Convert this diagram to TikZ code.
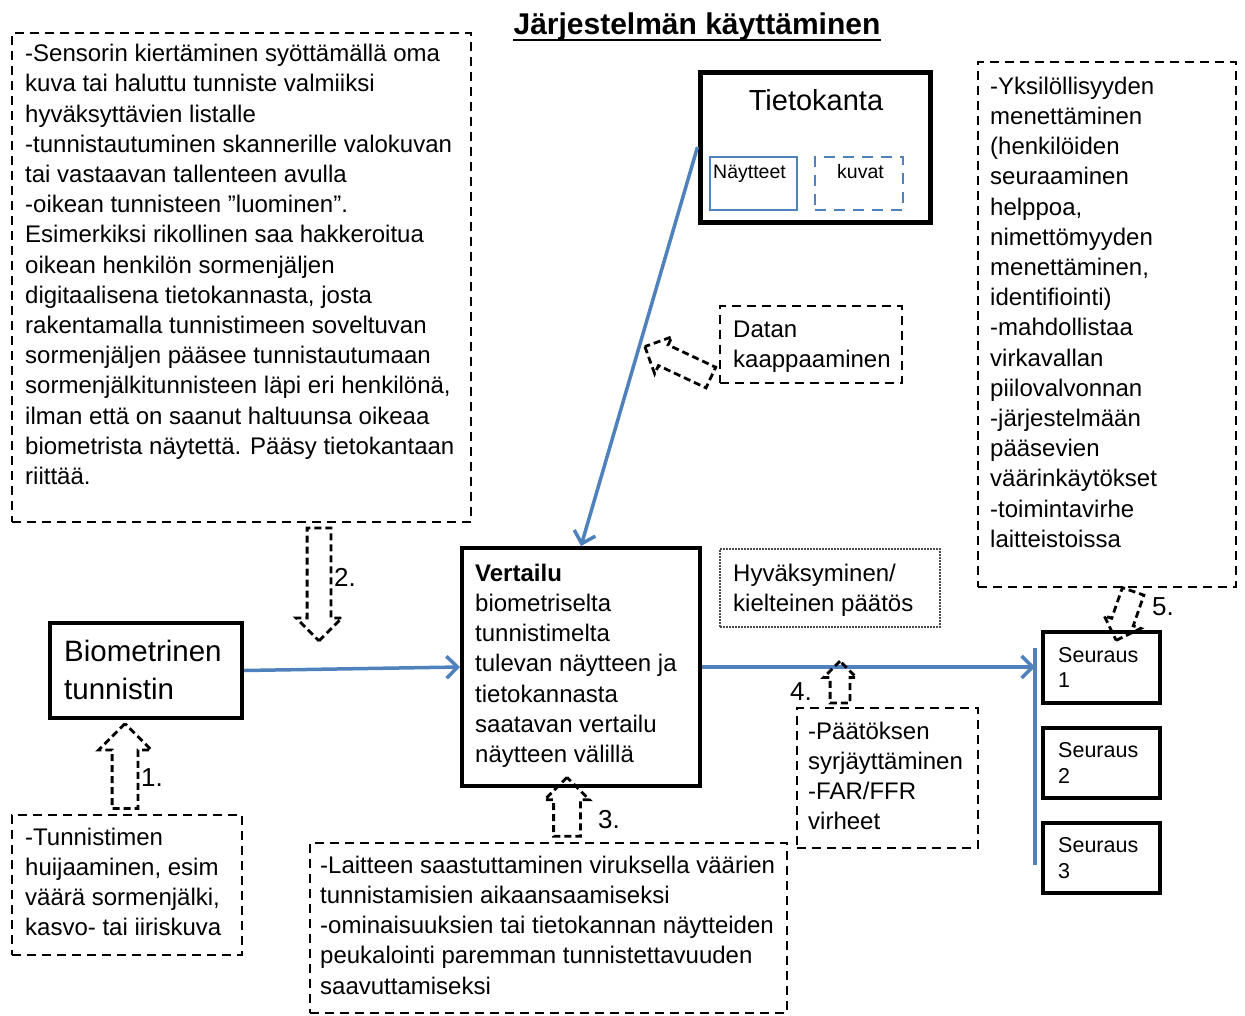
\documentclass[tikz,border=0pt]{standalone}
\usepackage{fontspec}
\setmainfont{Liberation Sans}
\usetikzlibrary{calc,arrows.meta,shapes.arrows,fit}
\definecolor{ablue}{RGB}{79,129,189}
\tikzset{
  boxthick/.style={draw, line width=4pt, inner sep=0pt},
  dbox/.style={draw, line width=2.2pt, dash pattern=on 9pt off 6pt, inner sep=0pt},
  dotbox/.style={draw=black!70, line width=1.1pt, dash pattern=on 1.6pt off 1.4pt, inner sep=0pt},
  bluebox/.style={draw=ablue, line width=2.5pt, inner sep=0pt},
  bluedbox/.style={bluebox, dash pattern=on 11pt off 8pt},
  txt/.style={anchor=north west, inner sep=0pt, align=left, font=\fontsize{24}{30.2}\selectfont},
  blueline/.style={draw=ablue, line width=3.5pt},
  bluearrow/.style={blueline, -{Straight Barb[length=11pt,width=22pt]}},
  harrow/.style={single arrow, draw, line width=2.8pt, dash pattern=on 7pt off 4pt, inner xsep=0pt, outer sep=0pt, single arrow tip angle=90},
  numlbl/.style={font=\fontsize{26}{30}\selectfont, inner sep=0pt}
}
% #1 name, #2 tail, #3 tip, #4 half shaft width, #5 head extend
\newcommand\hollowarrow[5]{%
  \path let \p1=(#2), \p2=(#3),
    \n1={atan2(\y2-\y1,\x2-\x1)},
    \n2={veclen(\x2-\x1,\y2-\y1)} in
    node[harrow, rotate=\n1, minimum height=\n2, inner ysep=#4pt, single arrow head extend=#5pt] (#1) at ($(#2)!0.5!(#3)$) {};}
\begin{document}
\begin{tikzpicture}[x=1pt,y=-1pt]
\useasboundingbox (0,0) rectangle (1245,1015);
\fill[white] (0,0) rectangle (1245,1015);

% title
\node[font=\fontsize{30}{34}\selectfont\bfseries, anchor=base, inner sep=0pt] (title) at (697,34) {Järjestelmän käyttäminen};
\draw[line width=2.6pt] ($(title.base west)+(0,6)$) -- ($(title.base east)+(0,6)$);

% box A
\node[dbox, fit={(12,33) (471,522)}] (boxA) {};
\node[txt] (txtA) at (25,40.4) {\strut -Sensorin kiertäminen syöttämällä oma\\
kuva tai haluttu tunniste valmiiksi\\
hyväksyttävien listalle\\
-tunnistautuminen skannerille valokuvan\\
tai vastaavan tallenteen avulla\\
-oikean tunnisteen ”luominen”.\\
Esimerkiksi rikollinen saa hakkeroitua\\
oikean henkilön sormenjäljen\\
digitaalisena tietokannasta, josta\\
rakentamalla tunnistimeen soveltuvan\\
sormenjäljen pääsee tunnistautumaan\\
sormenjälkitunnisteen läpi eri henkilönä,\\
ilman että on saanut haltuunsa oikeaa\\
biometrista näytettä. Pääsy tietokantaan\\
riittää.};

% Tietokanta
\node[boxthick, line width=5pt, fit={(700,72) (930,222)}] (tk) {};
\node[font=\fontsize{29}{34}\selectfont, anchor=base, inner sep=0pt] (tktitle) at (816,110) {Tietokanta};
\node[bluebox, fit={(710,157) (797,210)}] (nay) {};
\node[bluedbox, fit={(815,157) (903,210)}] (kuv) {};
\node[font=\fontsize{19.5}{22}\selectfont, anchor=base west, inner sep=0pt] (naytxt) at (713,178) {Näytteet};
\node[font=\fontsize{19.5}{22}\selectfont, anchor=base west, inner sep=0pt] (kuvtxt) at (837,178) {kuvat};

% Datan kaappaaminen
\node[dbox, fit={(720,306) (902,383)}] (datan) {};
\node[txt] (datantxt) at (733,316) {\strut Datan\\kaappaaminen};

% box 5
\node[dbox, fit={(978,62) (1236,587)}] (box5) {};
\node[txt] (txt5) at (990,73) {\strut -Yksilöllisyyden\\
menettäminen\\
(henkilöiden\\
seuraaminen\\
helppoa,\\
nimettömyyden\\
menettäminen,\\
identifiointi)\\
-mahdollistaa\\
virkavallan\\
piilovalvonnan\\
-järjestelmään\\
pääsevien\\
väärinkäytökset\\
-toimintavirhe\\
laitteistoissa};

% Biometrinen tunnistin
\node[boxthick, fit={(50,623) (242,718)}] (bio) {};
\node[txt, font=\fontsize{29.5}{38}\selectfont] (biotxt) at (64,634.4) {\strut Biometrinen\\tunnistin};

% Vertailu
\node[boxthick, fit={(462,548) (700,786)}] (vt) {};
\node[txt] (vttxt) at (475,560) {\strut \textbf{Vertailu}\\
biometriselta\\
tunnistimelta\\
tulevan näytteen ja\\
tietokannasta\\
saatavan vertailu\\
näytteen välillä};

% Hyväksyminen
\node[dotbox, fit={(720,549) (940,627)}] (hyv) {};
\node[txt] (hyvtxt) at (733,560) {\strut Hyväksyminen/\\kielteinen päätös};

% Seuraus boxes
\node[boxthick, fit={(1043,632) (1160,703)}] (s1) {};
\node[boxthick, fit={(1043,728) (1160,798)}] (s2) {};
\node[boxthick, fit={(1043,823) (1160,893)}] (s3) {};
\node[txt, font=\fontsize{21.5}{25.5}\selectfont] (s1txt) at (1058,644.2) {\strut Seuraus\\1};
\node[txt, font=\fontsize{21.5}{25.5}\selectfont] (s2txt) at (1058,739.7) {\strut Seuraus\\2};
\node[txt, font=\fontsize{21.5}{25.5}\selectfont] (s3txt) at (1058,834.7) {\strut Seuraus\\3};

% box 1
\node[dbox, fit={(12,815) (242,955)}] (box1) {};
\node[txt] (txt1) at (25,824) {\strut -Tunnistimen\\
huijaaminen, esim\\
väärä sormenjälki,\\
kasvo- tai iiriskuva};

% box 3
\node[dbox, fit={(310,843) (787,1013)}] (box3) {};
\node[txt] (txt3) at (320,852) {\strut -Laitteen saastuttaminen viruksella väärien\\
tunnistamisien aikaansaamiseksi\\
-ominaisuuksien tai tietokannan näytteiden\\
peukalointi paremman tunnistettavuuden\\
saavuttamiseksi};

% box 4
\node[dbox, fit={(797,708) (978,848)}] (box4) {};
\node[txt] (txt4) at (808,718) {\strut -Päätöksen\\
syrjäyttäminen\\
-FAR/FFR\\
virheet};

% blue connectors
\coordinate (bartop) at (1035,648);
\coordinate (barbot) at (1035,865);
\draw[blueline] (bartop) -- (barbot);
\draw[bluearrow] (tk.west) -- (vt.north);
\draw[bluearrow] (bio.east) -- (vt.west);
\draw[bluearrow] (vt.east) -- (vt.east -| bartop);

% hollow dashed arrows
\coordinate (a1t) at (125,815); \coordinate (a1h) at (125,730);
\coordinate (a2t) at (319,522); \coordinate (a2h) at (319,635);
\coordinate (a3t) at (567,843); \coordinate (a3h) at (567,784);
\coordinate (a4t) at (840,708); \coordinate (a4h) at (840,666);
\coordinate (a5t) at (1135,586); \coordinate (a5h) at (1118,635);
\coordinate (a6t) at (716,380); \coordinate (a6h) at (650,349);
\hollowarrow{h1}{a1t}{a1h}{11.5}{13.5}
\hollowarrow{h2}{a2t}{a2h}{10.5}{11}
\hollowarrow{h3}{a3t}{a3h}{12}{9}
\hollowarrow{h4}{a4t}{a4h}{8.5}{6.5}
\hollowarrow{h5}{a5t}{a5h}{10}{8}
\hollowarrow{h6}{a6t}{a6h}{10}{9}

% number labels
\node[numlbl] (n1) at (152,778) {1.};
\node[numlbl] (n2) at (345,577) {2.};
\node[numlbl] (n3) at (609,820) {3.};
\node[numlbl] (n4) at (801,692) {4.};
\node[numlbl] (n5) at (1163,607) {5.};
\end{tikzpicture}
\end{document}
